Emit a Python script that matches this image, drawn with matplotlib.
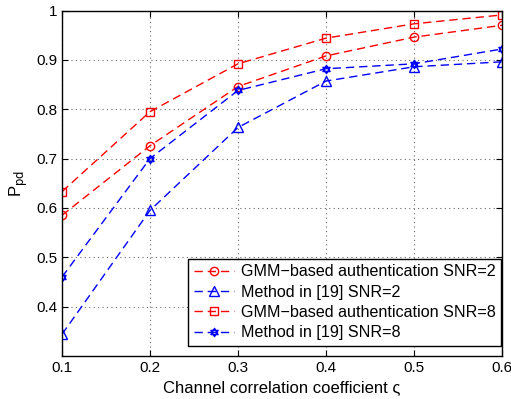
import matplotlib
matplotlib.use('Agg')
import matplotlib.pyplot as plt
from matplotlib.path import Path

plt.rcParams['font.family'] = ['Liberation Sans', 'DejaVu Sans']

# Data
rho = [0.1, 0.2, 0.3, 0.4, 0.5, 0.6]
gmm_snr2 = [0.585, 0.726, 0.846, 0.908, 0.946, 0.970]
m19_snr2 = [0.344, 0.595, 0.763, 0.857, 0.886, 0.896]
gmm_snr8 = [0.633, 0.795, 0.892, 0.944, 0.973, 0.991]
m19_snr8 = [0.460, 0.700, 0.838, 0.882, 0.892, 0.922]

labels = ['GMM\u2212based authentication SNR=2',
          'Method in [19] SNR=2',
          'GMM\u2212based authentication SNR=8',
          'Method in [19] SNR=8']

# hexagram marker (two overlapping triangles)
up = [(0, 1), (0.866, -0.5), (-0.866, -0.5), (0, 1)]
dn = [(0, -1), (0.866, 0.5), (-0.866, 0.5), (0, -1)]
codes = [Path.MOVETO, Path.LINETO, Path.LINETO, Path.CLOSEPOLY]
hexagram = Path(up + dn, codes + codes)

fig = plt.figure(figsize=(5.11, 3.99), dpi=100)
ax = fig.add_axes([62 / 511, 43 / 399, 440 / 511, 345.5 / 399])

style = dict(linestyle=(0, (6, 3.5)), linewidth=1.0, markerfacecolor='none', markeredgewidth=1.0)
ax.plot(rho, gmm_snr2, color='red', marker='o', markersize=6, label=labels[0], **style)
ax.plot(rho, m19_snr2, color='blue', marker='^', markersize=6.5, label=labels[1], **style)
ax.plot(rho, gmm_snr8, color='red', marker='s', markersize=5.5, label=labels[2], **style)
ax.plot(rho, m19_snr8, color='blue', marker=hexagram, markersize=6, label=labels[3], **style)

ax.set_xlim(0.1, 0.6)
ax.set_ylim(0.3, 1.0)
ax.set_xticks([0.1, 0.2, 0.3, 0.4, 0.5, 0.6])
ax.set_yticks([0.4, 0.5, 0.6, 0.7, 0.8, 0.9, 1.0])
ax.set_yticklabels(['0.4', '0.5', '0.6', '0.7', '0.8', '0.9', '1'])
ax.grid(True, linestyle=(0, (1, 3)), color='dimgray', linewidth=0.8)
ax.tick_params(direction='in', top=True, right=True, labelsize=11, length=4)
for s in ax.spines.values():
    s.set_linewidth(1.0)

ax.set_xlabel('Channel correlation coefficient \u03c2', fontsize=12)
ax.set_ylabel('P$_{\\rm pd}$', fontsize=12)

leg = ax.legend(loc='lower right', bbox_to_anchor=(0.998, 0.029), borderaxespad=0,
                fontsize=11.6, frameon=True, fancybox=False,
                edgecolor='black', framealpha=1,
                handlelength=2.5, handletextpad=0.4, labelspacing=0.33,
                borderpad=0.35)
leg.get_frame().set_linewidth(1.0)

fig.savefig('out.png', dpi=100)
